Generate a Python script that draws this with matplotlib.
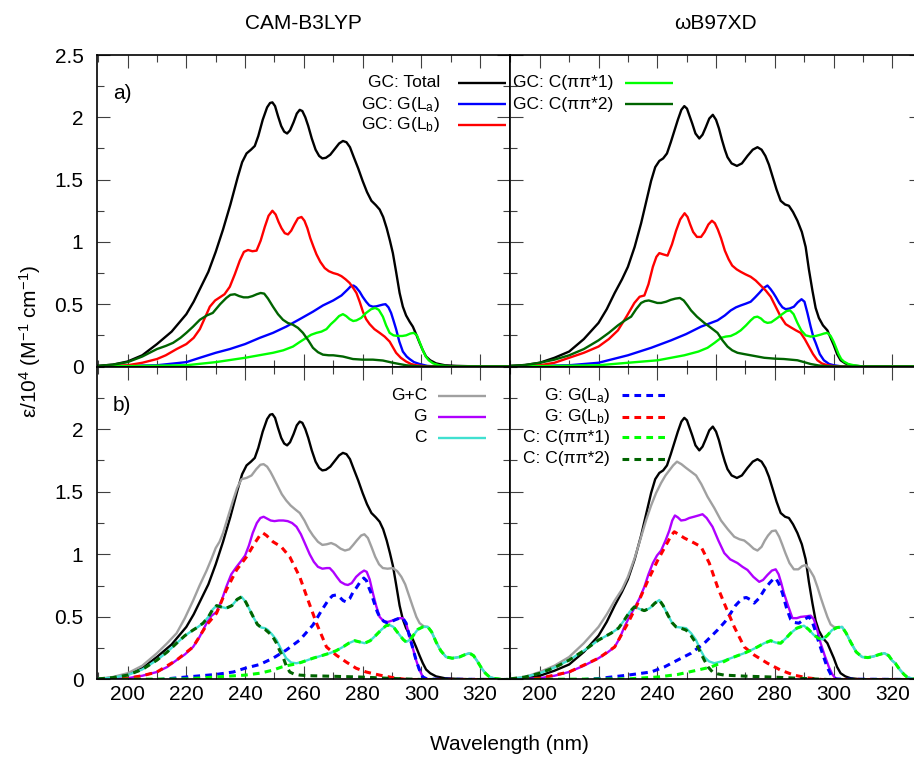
import matplotlib
matplotlib.use("Agg")
import matplotlib.pyplot as plt
from matplotlib.ticker import MultipleLocator, FuncFormatter

# Spectra: (wavelength nm, eps / 10^4 M^-1 cm^-1)

# ---------------- CAM-B3LYP (left column) ----------------
# panel a) GC pair
cam_total = [(190, 0.005), (195, 0.015), (200, 0.04), (205, 0.09), (210, 0.18), (215, 0.28), (220, 0.42),
             (222.5, 0.52), (225, 0.64), (227.5, 0.76), (230, 0.92), (232.5, 1.10), (235, 1.30), (237.5, 1.52),
             (239, 1.64), (240.5, 1.71), (242, 1.74), (243.3, 1.77), (244.5, 1.85), (246, 1.98), (247.5, 2.08),
             (248.5, 2.115), (249.3, 2.12), (250.2, 2.09), (251.2, 2.01), (252.3, 1.93), (253.3, 1.885),
             (254.3, 1.87), (255.3, 1.895), (256.5, 1.96), (257.6, 2.03), (258.6, 2.06), (259.5, 2.05),
             (260.5, 2.00), (261.5, 1.93), (262.7, 1.83), (264, 1.74), (265.2, 1.69), (266.3, 1.67), (267.5, 1.675),
             (269, 1.70), (270.5, 1.745), (272, 1.79), (273.3, 1.81), (274.5, 1.80), (275.7, 1.76), (277, 1.68),
             (278.5, 1.59), (280, 1.49), (281.5, 1.40), (283, 1.33), (284.5, 1.295), (285.8, 1.26), (287, 1.20),
             (288.2, 1.11), (289.3, 1.01), (290.3, 0.91), (291.4, 0.76), (292.6, 0.59), (293.7, 0.48),
             (294.8, 0.41), (296, 0.36), (297.1, 0.32), (298.2, 0.26), (299.4, 0.19), (300.5, 0.13), (301.6, 0.08),
             (303, 0.05), (305, 0.025), (308, 0.01), (312, 0.005), (320, 0.0), (330, 0.0)]
cam_la = [(190, 0.0), (200, 0.005), (210, 0.01), (220, 0.035), (224.6, 0.07), (230, 0.11), (234.8, 0.14),
          (240, 0.18), (245, 0.23), (249.5, 0.27), (254, 0.32), (258.6, 0.38), (263.1, 0.44), (266.5, 0.49),
          (270, 0.53), (272.8, 0.57), (275, 0.62), (276, 0.645), (276.9, 0.65), (277.8, 0.635), (279, 0.60),
          (280, 0.56), (281.2, 0.52), (282.3, 0.49), (283.5, 0.48), (284.7, 0.483), (285.8, 0.49), (286.9, 0.497),
          (287.8, 0.50), (288.8, 0.475), (289.7, 0.43), (290.5, 0.37), (291.4, 0.30), (292.5, 0.20),
          (293.7, 0.12), (295, 0.08), (296, 0.06), (297.5, 0.035), (299.4, 0.02), (302, 0.005), (305, 0.0),
          (330, 0.0)]
cam_lb = [(190, 0.0), (200, 0.01), (205, 0.03), (210, 0.06), (213, 0.09), (216.7, 0.14), (220, 0.18),
          (222.5, 0.23), (224.6, 0.30), (226.5, 0.40), (228, 0.48), (229.8, 0.53), (231.4, 0.555), (233, 0.58),
          (234.8, 0.64), (236.5, 0.74), (238.2, 0.85), (239.6, 0.92), (241, 0.935), (242.5, 0.925), (243.9, 0.93),
          (245.3, 1.01), (246.7, 1.12), (248, 1.21), (249.3, 1.25), (250.4, 1.22), (251.4, 1.16), (252.4, 1.11),
          (253.5, 1.07), (254.6, 1.06), (255.7, 1.09), (256.8, 1.14), (258, 1.19), (259.2, 1.20), (260.2, 1.17),
          (261.2, 1.11), (262.2, 1.03), (263.3, 0.96), (264.3, 0.90), (265.6, 0.84), (267.1, 0.79),
          (268.5, 0.765), (270, 0.75), (271.5, 0.74), (272.8, 0.725), (274.2, 0.70), (275.6, 0.67), (276.8, 0.63),
          (277.9, 0.59), (279, 0.52), (280.1, 0.44), (281.2, 0.38), (282.4, 0.34), (284, 0.30), (285.8, 0.27),
          (287.5, 0.24), (289.2, 0.20), (290.3, 0.155), (291.4, 0.11), (293, 0.07), (294.8, 0.04), (296.5, 0.02),
          (298.2, 0.01), (302, 0.0), (330, 0.0)]
cam_c1 = [(190, 0.0), (220, 0.01), (230, 0.035), (240, 0.07), (249.5, 0.11), (253, 0.13), (256.3, 0.16),
          (258.5, 0.195), (260.8, 0.23), (262.5, 0.255), (264.3, 0.27), (266, 0.28), (267.7, 0.30), (269.2, 0.34),
          (270.6, 0.37), (272, 0.405), (273.3, 0.42), (274.4, 0.405), (275.6, 0.38), (276.8, 0.365), (277.9, 0.37),
          (279.5, 0.39), (281.2, 0.43), (282.9, 0.46), (284.3, 0.47), (285.5, 0.455), (286.9, 0.40), (288, 0.33),
          (289.2, 0.27), (290.5, 0.25), (292, 0.245), (293.5, 0.245), (294.8, 0.25), (296.3, 0.265),
          (297.4, 0.27), (298.5, 0.25), (299.5, 0.19), (300.5, 0.13), (301.5, 0.08), (302.5, 0.05), (304, 0.025),
          (306, 0.01), (310, 0.0), (330, 0.0)]
cam_c2 = [(190, 0.005), (195, 0.015), (200, 0.035), (205, 0.08), (210, 0.14), (213, 0.165), (215.5, 0.19),
          (218, 0.23), (220, 0.27), (222.3, 0.32), (224.6, 0.375), (227, 0.41), (229, 0.43), (231.5, 0.50),
          (233.6, 0.55), (235, 0.575), (236.5, 0.58), (238, 0.565), (239.5, 0.555), (241, 0.555), (242.5, 0.565),
          (244, 0.58), (245.3, 0.59), (246.5, 0.585), (247.8, 0.545), (249.5, 0.48), (251.2, 0.42),
          (252.9, 0.375), (254.5, 0.35), (256.3, 0.335), (258, 0.31), (259.7, 0.27), (261.5, 0.21), (263.1, 0.15),
          (264.8, 0.115), (266.5, 0.095), (268.5, 0.09), (270, 0.09), (273.3, 0.08), (276.7, 0.06), (280, 0.055),
          (283.5, 0.055), (286.9, 0.048), (290.3, 0.03), (292.5, 0.02), (294.8, 0.01), (298, 0.003), (300, 0.0),
          (330, 0.0)]

# panel b) isolated G and C
cam_gc = [(190, 0.005), (195, 0.02), (200, 0.05), (205, 0.11), (210, 0.21), (213.5, 0.29), (216.7, 0.37),
          (219.5, 0.49), (222.3, 0.63), (224.5, 0.75), (226.9, 0.87), (228.5, 0.96), (230, 1.05), (231.3, 1.10),
          (232.5, 1.17), (234.2, 1.30), (235.9, 1.43), (237.3, 1.53), (238.8, 1.60), (240.5, 1.61), (242.2, 1.63),
          (243.8, 1.68), (245.2, 1.715), (246.3, 1.72), (247.5, 1.70), (248.6, 1.66), (249.5, 1.62), (251, 1.55),
          (252.5, 1.48), (254, 1.43), (255.5, 1.39), (257, 1.36), (258.6, 1.33), (260.2, 1.27), (261.7, 1.20),
          (263.1, 1.15), (264.8, 1.10), (266.3, 1.075), (267.8, 1.08), (269.3, 1.09), (270.8, 1.075),
          (272.5, 1.045), (274, 1.03), (275.5, 1.04), (276.8, 1.075), (278, 1.11), (279.5, 1.15), (280.6, 1.16),
          (281.8, 1.13), (283, 1.06), (284.3, 0.98), (285.6, 0.92), (286.9, 0.89), (288.5, 0.885), (290.3, 0.89),
          (291.8, 0.865), (293.2, 0.82), (294.5, 0.76), (295.8, 0.67), (297.1, 0.58), (298.3, 0.50),
          (299.4, 0.45), (300.8, 0.425), (302.2, 0.42), (303.5, 0.38), (305, 0.30), (306.6, 0.23), (308.4, 0.18),
          (310.5, 0.17), (313, 0.18), (315, 0.20), (316.4, 0.21), (317.8, 0.19), (319.2, 0.14), (320.5, 0.09),
          (321.8, 0.05), (323.2, 0.02), (325, 0.008), (327, 0.002), (330, 0.0)]
cam_g = [(190, 0.0), (200, 0.01), (205, 0.03), (210, 0.06), (213.5, 0.10), (216.7, 0.155), (219.5, 0.20),
         (222.3, 0.26), (224.5, 0.34), (226.9, 0.45), (228.6, 0.51), (230.3, 0.54), (232, 0.63), (233.6, 0.74),
         (235.3, 0.84), (237.1, 0.90), (238.6, 0.945), (240, 0.99), (241.3, 1.07), (242.6, 1.17), (244, 1.25),
         (245.2, 1.29), (246.3, 1.30), (247.5, 1.285), (248.7, 1.27), (250, 1.265), (251.5, 1.27), (253, 1.27),
         (254.5, 1.265), (256, 1.25), (257.5, 1.22), (259, 1.16), (260.5, 1.08), (262, 1.00), (263.4, 0.94),
         (264.8, 0.90), (266.3, 0.885), (267.8, 0.89), (268.8, 0.89), (270, 0.86), (271.2, 0.82), (272.5, 0.78),
         (274, 0.76), (275, 0.755), (276.3, 0.77), (277.8, 0.82), (279.2, 0.85), (280.5, 0.87), (281.4, 0.86),
         (282.4, 0.80), (283.5, 0.69), (284.6, 0.59), (285.8, 0.50), (287.2, 0.465), (288.6, 0.46), (290, 0.47),
         (291.4, 0.48), (292.6, 0.49), (293.7, 0.49), (294.8, 0.45), (296, 0.34), (297.1, 0.25), (298.2, 0.155),
         (299.3, 0.08), (300.5, 0.02), (302, 0.003), (305, 0.0), (330, 0.0)]
cam_c = [(190, 0.005), (195, 0.015), (200, 0.035), (205, 0.08), (210, 0.155), (213.5, 0.22), (216.7, 0.29),
         (219.5, 0.35), (222.3, 0.395), (224, 0.42), (225.7, 0.45), (227.5, 0.50), (229, 0.56), (230.3, 0.59),
         (231.8, 0.58), (233.6, 0.57), (235.5, 0.59), (237.3, 0.64), (238.8, 0.66), (240.2, 0.62), (241.5, 0.56),
         (243, 0.49), (244.2, 0.44), (245.5, 0.415), (246.8, 0.41), (247.8, 0.395), (249.2, 0.36), (250.7, 0.315),
         (252.3, 0.24), (254, 0.17), (255.7, 0.135), (257.5, 0.13), (259.5, 0.14), (261.3, 0.155), (263.1, 0.17),
         (266, 0.19), (268.8, 0.21), (271, 0.23), (273.3, 0.26), (275.3, 0.29), (277.3, 0.31), (279, 0.30),
         (280.7, 0.29), (282.6, 0.31), (284.6, 0.355), (286.5, 0.40), (288, 0.43), (289.2, 0.435), (290.5, 0.42),
         (291.6, 0.385), (292.6, 0.355), (293.8, 0.32), (294.8, 0.30), (296.3, 0.32), (297.5, 0.36),
         (298.8, 0.40), (300.5, 0.42), (302.2, 0.42), (303.5, 0.38), (305, 0.30), (306.6, 0.23), (308.4, 0.18),
         (310.5, 0.17), (313, 0.18), (315, 0.20), (316.4, 0.21), (317.8, 0.19), (319.2, 0.14), (320.5, 0.09),
         (321.8, 0.05), (323.2, 0.02), (325, 0.008), (327, 0.002), (330, 0.0)]
cam_g_la = [(190, 0.0), (211, 0.0), (220, 0.02), (230, 0.04), (236, 0.06), (240, 0.09), (245, 0.12), (249.5, 0.17),
            (254, 0.235), (258.6, 0.315), (263.1, 0.435), (266, 0.55), (267.1, 0.59), (268.5, 0.64), (269.8, 0.67),
            (271, 0.675), (272.3, 0.655), (273.4, 0.63), (274.4, 0.62), (275.6, 0.645), (276.8, 0.70),
            (277.8, 0.73), (279.2, 0.78), (280.4, 0.81), (281.3, 0.79), (282.2, 0.73), (282.9, 0.69), (284, 0.61),
            (285, 0.54), (285.8, 0.50), (287.2, 0.465), (288.6, 0.45), (290, 0.465), (291.4, 0.48), (292.6, 0.49),
            (293.7, 0.49), (294.8, 0.45), (296, 0.34), (297.1, 0.25), (298.2, 0.155), (299.3, 0.08),
            (300.5, 0.02), (302, 0.003), (330, 0.0)]
cam_g_lb = [(190, 0.0), (200, 0.01), (205, 0.03), (210, 0.06), (216.7, 0.155), (222.3, 0.26), (226.9, 0.435),
            (230.3, 0.53), (233.6, 0.715), (237.1, 0.875), (240.5, 0.98), (243.3, 1.09), (245, 1.15), (246.1, 1.17),
            (247.3, 1.15), (249.5, 1.10), (252.3, 1.06), (255.2, 0.98), (258.6, 0.82), (261.4, 0.635),
            (264.3, 0.45), (267.7, 0.26), (271, 0.195), (274.4, 0.14), (277.8, 0.09), (281.2, 0.06),
            (285.8, 0.035), (290.3, 0.015), (295, 0.0), (330, 0.0)]
cam_c_c1 = [(190, 0.0), (220, 0.005), (230, 0.02), (240, 0.035), (245, 0.05), (249.5, 0.075), (252.5, 0.10),
            (255.2, 0.115), (257.5, 0.125), (259.5, 0.14), (261.3, 0.155), (263.1, 0.17), (266, 0.19),
            (268.8, 0.21), (271, 0.23), (273.3, 0.26), (275.3, 0.29), (277.3, 0.31), (279, 0.30), (280.7, 0.29),
            (282.6, 0.31), (284.6, 0.355), (286.5, 0.40), (288, 0.43), (289.2, 0.435), (290.5, 0.42),
            (291.6, 0.385), (292.6, 0.355), (293.8, 0.32), (294.8, 0.30), (296.3, 0.32), (297.5, 0.36),
            (298.8, 0.40), (300.5, 0.42), (302.2, 0.42), (303.5, 0.38), (305, 0.30), (306.6, 0.23), (308.4, 0.18),
            (310.5, 0.17), (313, 0.18), (315, 0.20), (316.4, 0.21), (317.8, 0.19), (319.2, 0.14), (320.5, 0.09),
            (321.8, 0.05), (323.2, 0.02), (325, 0.008), (327, 0.002), (330, 0.0)]
cam_c_c2 = [(190, 0.005), (195, 0.015), (200, 0.035), (205, 0.08), (210, 0.155), (213.5, 0.22), (216.7, 0.29),
            (219.5, 0.35), (222.3, 0.395), (224, 0.42), (225.7, 0.45), (227.5, 0.50), (229, 0.56), (230.3, 0.59),
            (231.8, 0.58), (233.6, 0.57), (235.5, 0.59), (237.3, 0.64), (238.8, 0.66), (240.2, 0.62),
            (241.5, 0.56), (243, 0.49), (244.2, 0.44), (245.5, 0.415), (246.8, 0.40), (247.8, 0.38), (249.2, 0.35),
            (250.7, 0.29), (251.8, 0.23), (252.9, 0.18), (254, 0.11), (255.2, 0.06), (256.5, 0.045),
            (258.6, 0.035), (262, 0.03), (267.7, 0.027), (279, 0.02), (290.3, 0.008), (300, 0.0), (330, 0.0)]

# ---------------- wB97XD (right column) ----------------
wb_total = [(190, 0.005), (195, 0.012), (200, 0.03), (205, 0.07), (210, 0.12), (215, 0.22), (220, 0.35),
            (222.8, 0.46), (225.5, 0.59), (228, 0.70), (230, 0.80), (232.3, 0.96), (234.5, 1.15), (236.3, 1.33),
            (237.9, 1.49), (239.3, 1.60), (240.7, 1.65), (242, 1.67), (243.3, 1.71), (244.6, 1.80), (245.8, 1.89),
            (247, 1.98), (248.2, 2.06), (249.2, 2.09), (250.1, 2.07), (251, 2.01), (251.9, 1.95), (253, 1.87),
            (254.3, 1.83), (255.4, 1.86), (256.5, 1.92), (257.7, 1.99), (258.9, 2.02), (260, 1.98), (261, 1.91),
            (262, 1.82), (263, 1.74), (263.9, 1.68), (265.3, 1.63), (267.1, 1.61), (268.8, 1.63), (270.7, 1.69),
            (272.5, 1.74), (274.1, 1.76), (275.5, 1.74), (276.8, 1.69), (278, 1.62), (279.3, 1.52), (280.6, 1.42),
            (282, 1.33), (283.5, 1.30), (284.8, 1.29), (286.2, 1.24), (287.7, 1.17), (289.2, 1.08), (290.5, 0.96),
            (291.6, 0.78), (292.8, 0.61), (293.9, 0.47), (295, 0.39), (296.4, 0.33), (297.9, 0.29), (299, 0.23),
            (300.1, 0.17), (301.2, 0.10), (302.4, 0.05), (304, 0.025), (305.8, 0.01), (310, 0.0), (330, 0.0)]
wb_la = [(190, 0.0), (210, 0.01), (220, 0.03), (230, 0.09), (237.9, 0.15), (244.7, 0.21), (249.8, 0.26),
         (254.9, 0.32), (260.5, 0.37), (263, 0.41), (265, 0.45), (266.8, 0.475), (268.4, 0.49), (270.2, 0.505),
         (271.8, 0.52), (273.3, 0.555), (274.7, 0.59), (276.2, 0.63), (277.5, 0.65), (278.6, 0.62), (279.5, 0.59),
         (280.3, 0.56), (281.5, 0.51), (282.6, 0.475), (283.7, 0.46), (285, 0.465), (286.5, 0.48), (287.8, 0.515),
         (289.1, 0.54), (290.1, 0.52), (291.1, 0.43), (292.2, 0.32), (293.2, 0.23), (293.9, 0.19), (295.3, 0.10),
         (296.7, 0.05), (298.5, 0.02), (300.1, 0.01), (303, 0.0), (330, 0.0)]
wb_lb = [(190, 0.0), (200, 0.01), (205, 0.03), (210, 0.07), (215, 0.11), (220, 0.16), (223.5, 0.22), (226.6, 0.29),
         (229.5, 0.40), (232.2, 0.51), (234, 0.56), (235.6, 0.57), (237, 0.66), (238.5, 0.80), (239.7, 0.88),
         (240.7, 0.91), (242, 0.90), (243.5, 0.89), (245, 0.98), (246.4, 1.09), (247.8, 1.18), (249.3, 1.23),
         (250.3, 1.20), (251.2, 1.14), (252.2, 1.08), (253.5, 1.04), (254.9, 1.04), (256.1, 1.08), (257.4, 1.14),
         (258.6, 1.17), (259.6, 1.15), (260.6, 1.10), (261.7, 1.03), (263, 0.93), (264.3, 0.86), (265.5, 0.81),
         (267, 0.78), (268.4, 0.76), (270, 0.74), (271.8, 0.72), (273.5, 0.69), (275.2, 0.65), (276.9, 0.61),
         (278.6, 0.56), (280.3, 0.48), (282, 0.40), (283.7, 0.34), (285.4, 0.315), (287.2, 0.29), (288.8, 0.27),
         (290.2, 0.22), (291.6, 0.16), (293, 0.10), (294.5, 0.05), (296, 0.025), (297.9, 0.01), (301, 0.0),
         (330, 0.0)]
wb_c1 = [(190, 0.0), (220, 0.01), (230, 0.03), (240.2, 0.05), (249.2, 0.09), (254, 0.12), (257.1, 0.15),
         (259.5, 0.19), (261.7, 0.23), (263.3, 0.24), (265, 0.245), (266.8, 0.265), (268.4, 0.29), (270.2, 0.33),
         (271.8, 0.37), (273, 0.395), (274.1, 0.40), (275.3, 0.385), (276.4, 0.36), (277.5, 0.35), (278.8, 0.355),
         (280.9, 0.39), (282.5, 0.42), (284, 0.445), (285.2, 0.45), (286.4, 0.42), (287.7, 0.35), (289, 0.29),
         (290.5, 0.25), (292.2, 0.24), (293.9, 0.245), (295.5, 0.255), (296.8, 0.265), (297.9, 0.27),
         (299, 0.245), (300, 0.20), (300.7, 0.16), (301.7, 0.10), (302.6, 0.06), (303.5, 0.04), (305, 0.02),
         (306.9, 0.01), (310, 0.0), (330, 0.0)]
wb_c2 = [(190, 0.005), (195, 0.012), (200, 0.03), (205, 0.055), (210, 0.09), (215, 0.14), (220, 0.21),
         (223.5, 0.27), (226.6, 0.33), (229, 0.37), (231.1, 0.40), (232.8, 0.46), (234.5, 0.51), (235.8, 0.525),
         (237.1, 0.53), (238.6, 0.52), (240, 0.51), (241.3, 0.51), (243, 0.52), (244.6, 0.535), (246.2, 0.545),
         (247.7, 0.55), (249, 0.53), (250.3, 0.49), (251.5, 0.45), (253.5, 0.40), (256, 0.35), (258.3, 0.31),
         (260.5, 0.27), (262.2, 0.21), (263.9, 0.16), (265.5, 0.13), (267.3, 0.11), (269.5, 0.10), (271.8, 0.09),
         (276.4, 0.07), (280, 0.063), (283.1, 0.06), (287.7, 0.05), (290, 0.035), (292.2, 0.02), (295, 0.008),
         (298, 0.002), (300, 0.0), (330, 0.0)]

wb_gc = [(190, 0.005), (195, 0.02), (200, 0.06), (205, 0.11), (210, 0.18), (215, 0.29), (220, 0.42), (222.8, 0.52),
         (225.5, 0.63), (228, 0.72), (230, 0.82), (232.3, 0.97), (234.5, 1.14), (236.3, 1.28), (237.9, 1.39),
         (239.6, 1.49), (241.3, 1.57), (242.8, 1.63), (244.1, 1.67), (245.4, 1.71), (246.7, 1.74), (248.2, 1.72),
         (249.8, 1.69), (251.5, 1.66), (253.2, 1.63), (255, 1.56), (257.1, 1.46), (259.4, 1.37), (261.7, 1.27),
         (264, 1.20), (266.2, 1.14), (268, 1.12), (269.6, 1.11), (271.2, 1.08), (272.8, 1.045), (274.1, 1.03),
         (275.5, 1.06), (276.6, 1.11), (277.7, 1.15), (279, 1.185), (280.3, 1.19), (281.5, 1.14), (282.5, 1.08),
         (283.6, 1.01), (285, 0.93), (286.5, 0.88), (288, 0.88), (289.3, 0.905), (290.5, 0.915), (291.8, 0.88),
         (293.3, 0.82), (294.5, 0.74), (295.7, 0.65), (296.7, 0.58), (297.9, 0.50), (299, 0.44), (300.1, 0.42),
         (301.5, 0.415), (302.9, 0.42), (304.3, 0.37), (305.8, 0.30), (307.7, 0.22), (309.7, 0.18),
         (311.7, 0.175), (313.7, 0.185), (315.6, 0.20), (317.3, 0.21), (318.8, 0.19), (320, 0.15), (321, 0.13),
         (322.5, 0.08), (324, 0.04), (325, 0.02), (327, 0.005), (330, 0.0)]
wb_g = [(190, 0.0), (200, 0.01), (205, 0.03), (210, 0.06), (215, 0.11), (220, 0.17), (223, 0.215), (225.5, 0.26),
        (227.2, 0.33), (228.8, 0.42), (230.5, 0.50), (232.2, 0.57), (234, 0.65), (235.6, 0.74), (237, 0.84),
        (238.5, 0.93), (239.9, 0.99), (241.3, 1.03), (242.8, 1.11), (244.1, 1.19), (245.1, 1.27), (246, 1.31),
        (247, 1.295), (248.1, 1.27), (249.5, 1.275), (250.9, 1.29), (252.5, 1.30), (254, 1.31), (255.4, 1.32),
        (256.8, 1.29), (258.8, 1.22), (260.8, 1.11), (262.8, 1.01), (264.8, 0.96), (267.3, 0.93), (269, 0.90),
        (270.7, 0.875), (272.7, 0.82), (274.7, 0.78), (276, 0.795), (277.5, 0.835), (279, 0.87), (280.3, 0.88),
        (281.3, 0.84), (282.2, 0.77), (283.1, 0.69), (284.5, 0.59), (286, 0.49), (287.5, 0.49), (288.8, 0.50),
        (290.8, 0.505), (292.2, 0.51), (293.3, 0.48), (294.5, 0.39), (295.6, 0.29), (297, 0.19), (298.4, 0.10),
        (299.6, 0.04), (300.7, 0.008), (303, 0.0), (330, 0.0)]
wb_c = [(190, 0.005), (195, 0.02), (200, 0.05), (205, 0.095), (210, 0.155), (215.3, 0.235), (220, 0.315),
        (224.3, 0.37), (226.8, 0.41), (228.8, 0.475), (230.6, 0.54), (232.2, 0.58), (233.8, 0.565), (235.6, 0.55),
        (237.5, 0.57), (239.2, 0.61), (240.7, 0.635), (242, 0.59), (243.6, 0.515), (245, 0.455), (246.4, 0.42),
        (248, 0.415), (249.8, 0.41), (251.5, 0.37), (253.2, 0.315), (254.6, 0.24), (256, 0.18), (257.6, 0.145),
        (259.4, 0.13), (262, 0.145), (265, 0.17), (267.3, 0.19), (269.6, 0.21), (272, 0.235), (274.1, 0.26),
        (276.4, 0.29), (278.6, 0.31), (280.3, 0.295), (282, 0.29), (283.8, 0.33), (285.4, 0.37), (287.5, 0.41),
        (289.9, 0.43), (291.5, 0.40), (293.3, 0.355), (294.8, 0.33), (296.2, 0.32), (297.8, 0.35), (299.5, 0.395),
        (301.2, 0.415), (302.9, 0.42), (304.3, 0.37), (305.8, 0.30), (307.7, 0.22), (309.7, 0.18), (311.7, 0.175),
        (313.7, 0.185), (315.6, 0.20), (317.3, 0.21), (318.8, 0.19), (320, 0.15), (321, 0.13), (322.5, 0.08),
        (324, 0.04), (325, 0.02), (327, 0.005), (330, 0.0)]
wb_g_la = [(190, 0.0), (215, 0.0), (220, 0.008), (230, 0.035), (237.9, 0.06), (242.4, 0.10), (246.9, 0.155),
           (251.5, 0.21), (256, 0.29), (260.5, 0.395), (263, 0.46), (265, 0.53), (266.6, 0.59), (268, 0.625),
           (269.2, 0.65), (270.3, 0.655), (271.5, 0.64), (273, 0.61), (274.7, 0.65), (276.4, 0.715), (278.2, 0.77),
           (279.4, 0.80), (280.3, 0.81), (281.3, 0.77), (282.6, 0.69), (284, 0.57), (285.4, 0.48), (286.8, 0.455),
           (288.2, 0.45), (290, 0.48), (291.6, 0.50), (292.6, 0.47), (293.5, 0.41), (294.8, 0.31), (296.2, 0.21),
           (297.8, 0.10), (299.5, 0.02), (301, 0.003), (330, 0.0)]
wb_g_lb = [(190, 0.0), (200, 0.01), (210, 0.06), (220, 0.17), (225.5, 0.26), (230, 0.45), (233.4, 0.61),
           (236.8, 0.79), (240.2, 0.955), (243.6, 1.10), (244.7, 1.15), (245.8, 1.18), (247.2, 1.16), (249.2, 1.13),
           (252.6, 1.09), (254.9, 1.06), (257.7, 0.93), (260.5, 0.74), (263.3, 0.58), (266.2, 0.42), (269.6, 0.26),
           (273, 0.195), (277.5, 0.13), (282, 0.075), (286.5, 0.035), (291.1, 0.013), (296, 0.0), (330, 0.0)]
wb_c_c1 = [(190, 0.0), (230, 0.005), (240.2, 0.02), (246.9, 0.04), (253.7, 0.075), (258.3, 0.10), (262, 0.135),
           (265, 0.17), (267.3, 0.19), (269.6, 0.21), (272, 0.235), (274.1, 0.26), (276.4, 0.29), (278.6, 0.31),
           (280.3, 0.295), (282, 0.29), (283.8, 0.33), (285.4, 0.37), (287.5, 0.41), (289.9, 0.43), (291.5, 0.40),
           (293.3, 0.355), (294.8, 0.33), (296.2, 0.32), (297.8, 0.35), (299.5, 0.395), (301.2, 0.415),
           (302.9, 0.42), (304.3, 0.37), (305.8, 0.30), (307.7, 0.22), (309.7, 0.18), (311.7, 0.175),
           (313.7, 0.185), (315.6, 0.20), (317.3, 0.21), (318.8, 0.19), (320, 0.15), (321, 0.13), (322.5, 0.08),
           (324, 0.04), (325, 0.02), (327, 0.005), (330, 0.0)]
wb_c_c2 = [(190, 0.005), (195, 0.02), (200, 0.05), (205, 0.095), (210, 0.155), (215.3, 0.235), (220, 0.315),
           (224.3, 0.37), (226.8, 0.41), (228.8, 0.475), (230.6, 0.54), (232.2, 0.58), (233.8, 0.565),
           (235.6, 0.55), (237.5, 0.57), (239.2, 0.61), (240.7, 0.635), (242, 0.59), (243.6, 0.515), (245, 0.455),
           (246.4, 0.42), (248, 0.41), (249.8, 0.395), (251.5, 0.35), (253.2, 0.29), (254.6, 0.22), (256, 0.155),
           (257.3, 0.10), (258.8, 0.06), (260.5, 0.045), (262.8, 0.035), (269.6, 0.027), (278.6, 0.02),
           (289.9, 0.008), (298, 0.0), (330, 0.0)]

# ---------------- labels ----------------
method_titles = ["CAM-B3LYP", "\u03c9B97XD"]
x_label = "Wavelength (nm)"
y_label = "\u03b5/10$^{4}$ (M$^{-1}$ cm$^{-1}$)"
label_total = "GC: Total"
label_la = r"GC: G(L$_{\mathrm{a}}$)"
label_lb = r"GC: G(L$_{\mathrm{b}}$)"
label_c1 = "GC: C(\u03c0\u03c0*1)"
label_c2 = "GC: C(\u03c0\u03c0*2)"
label_gc = "G+C"
label_g = "G"
label_c = "C"
label_g_la = r"G: G(L$_{\mathrm{a}}$)"
label_g_lb = r"G: G(L$_{\mathrm{b}}$)"
label_c_c1 = "C: C(\u03c0\u03c0*1)"
label_c_c2 = "C: C(\u03c0\u03c0*2)"

# ---------------- style ----------------
plt.rcParams['font.family'] = ['Liberation Sans', 'DejaVu Sans']
plt.rcParams['mathtext.fontset'] = 'custom'
plt.rcParams['mathtext.rm'] = 'Liberation Sans'
plt.rcParams['mathtext.it'] = 'Liberation Sans:italic'
plt.rcParams['mathtext.bf'] = 'Liberation Sans:bold'

C_BLACK = '#000000'
C_BLUE = '#0000ff'
C_RED = '#ff0000'
C_GREEN = '#00ff00'
C_DKGREEN = '#006400'
C_GRAY = '#a0a0a0'
C_PURPLE = '#b000ff'
C_TURQ = '#40e0d0'
LW = 1.7
LW_DASH = 2.2
DASH = (0, (2.2, 1.7))
TICK_FS = 15
KEY_FS = 12.5


def curve(ax, data, **kw):
    wl, eps = zip(*data)
    ax.plot(wl, eps, solid_joinstyle='round', dash_joinstyle='round', **kw)


def style_axis(ax, show_x, show_y, y_ticks):
    ax.set_xlim(189.7, 330)
    ax.set_ylim(0, 2.5)
    ax.xaxis.set_major_locator(MultipleLocator(20))
    ax.xaxis.set_minor_locator(MultipleLocator(10))
    ax.set_yticks(y_ticks)
    ax.yaxis.set_minor_locator(MultipleLocator(0.25))
    ax.yaxis.set_major_formatter(FuncFormatter(lambda v, p: '%g' % v))
    ax.tick_params(which='both', direction='in', top=True, right=True, width=0.8, color='#404040')
    ax.tick_params(which='major', length=9.5)
    ax.tick_params(which='minor', length=5)
    ax.tick_params(axis='x', labelsize=TICK_FS, pad=4, labelbottom=show_x)
    ax.tick_params(axis='y', labelsize=TICK_FS, pad=10, labelleft=show_y)
    for s in ax.spines.values():
        s.set_linewidth(1.2)


def draw_key(ax, entries, x_text, x_line, y_rows):
    # gnuplot style key: right aligned text followed by a line sample
    for (label, color, ls, lw), y in zip(entries, y_rows):
        ax.text(x_text, y, label, transform=ax.transAxes, ha='right', va='center', fontsize=KEY_FS)
        ax.plot(x_line, [y, y], transform=ax.transAxes, color=color, ls=ls, lw=lw, clip_on=False,
                solid_capstyle='butt', dash_capstyle='butt')


fig = plt.figure(figsize=(9.14, 7.57), dpi=100)
ax_tl = fig.add_axes([0.10646, 0.51585, 0.45098, 0.41149])
ax_tr = fig.add_axes([0.55744, 0.51585, 0.45098, 0.41149])
ax_bl = fig.add_axes([0.10646, 0.10238, 0.45098, 0.41347])
ax_br = fig.add_axes([0.55744, 0.10238, 0.45098, 0.41347])

columns = [
    (ax_tl, ax_bl, dict(total=cam_total, la=cam_la, lb=cam_lb, c1=cam_c1, c2=cam_c2, gc=cam_gc, g=cam_g, c=cam_c,
                        g_la=cam_g_la, g_lb=cam_g_lb, c_c1=cam_c_c1, c_c2=cam_c_c2)),
    (ax_tr, ax_br, dict(total=wb_total, la=wb_la, lb=wb_lb, c1=wb_c1, c2=wb_c2, gc=wb_gc, g=wb_g, c=wb_c,
                        g_la=wb_g_la, g_lb=wb_g_lb, c_c1=wb_c_c1, c_c2=wb_c_c2)),
]

for col, (ax_top, ax_bot, d) in enumerate(columns):
    # top panel: GC pair states
    curve(ax_top, d['total'], color=C_BLACK, lw=LW)
    curve(ax_top, d['la'], color=C_BLUE, lw=LW)
    curve(ax_top, d['lb'], color=C_RED, lw=LW)
    curve(ax_top, d['c1'], color=C_GREEN, lw=LW)
    curve(ax_top, d['c2'], color=C_DKGREEN, lw=LW)
    # bottom panel: isolated G and C
    curve(ax_bot, d['total'], color=C_BLACK, lw=LW)
    curve(ax_bot, d['gc'], color=C_GRAY, lw=LW)
    curve(ax_bot, d['g'], color=C_PURPLE, lw=LW)
    curve(ax_bot, d['c'], color=C_TURQ, lw=LW)
    curve(ax_bot, d['g_la'], color=C_BLUE, lw=LW_DASH, ls=DASH)
    curve(ax_bot, d['g_lb'], color=C_RED, lw=LW_DASH, ls=DASH)
    curve(ax_bot, d['c_c1'], color=C_GREEN, lw=LW_DASH, ls=DASH)
    curve(ax_bot, d['c_c2'], color=C_DKGREEN, lw=LW_DASH, ls=DASH)

    style_axis(ax_top, False, col == 0, [0, 0.5, 1, 1.5, 2, 2.5])
    style_axis(ax_bot, True, col == 0, [0, 0.5, 1, 1.5, 2])
    ax_top.set_title(method_titles[col], fontsize=15, pad=18.5)

# keys
draw_key(ax_tl, [(label_total, C_BLACK, '-', LW), (label_la, C_BLUE, '-', LW), (label_lb, C_RED, '-', LW)],
         0.8314, [0.8753, 0.9918], [0.9111, 0.8427, 0.7753])
draw_key(ax_tr, [(label_c1, C_GREEN, '-', LW), (label_c2, C_DKGREEN, '-', LW)],
         0.2511, [0.2802, 0.3967], [0.9111, 0.8427])
draw_key(ax_bl, [(label_gc, C_GRAY, '-', LW), (label_g, C_PURPLE, '-', LW), (label_c, C_TURQ, '-', LW)],
         0.7997, [0.8266, 0.9430], [0.9067, 0.8387, 0.7716])
draw_key(ax_br, [(label_g_la, C_BLUE, DASH, LW_DASH), (label_g_lb, C_RED, DASH, LW_DASH),
                 (label_c_c1, C_GREEN, DASH, LW_DASH), (label_c_c2, C_DKGREEN, DASH, LW_DASH)],
         0.2438, [0.2729, 0.3845], [0.9089, 0.8396, 0.7738, 0.7054])

ax_tl.text(0.0374, 0.877, "a)", transform=ax_tl.transAxes, ha='left', va='center', fontsize=15)
ax_bl.text(0.0374, 0.877, "b)", transform=ax_bl.transAxes, ha='left', va='center', fontsize=15)

fig.text(509.6 / 914, 1 - 745 / 757, x_label, ha='center', va='center', fontsize=15)
fig.text(30 / 914, 1 - 341 / 757, y_label, ha='center', va='center', rotation=90, fontsize=15)

fig.savefig("out.png", dpi=100)
